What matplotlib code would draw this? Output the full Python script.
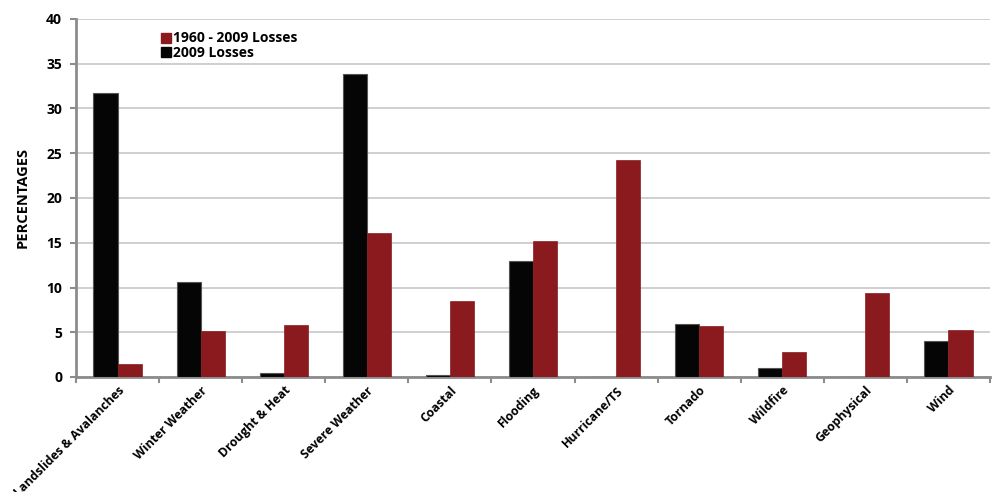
import matplotlib
matplotlib.use("Agg")
import matplotlib.pyplot as plt
import numpy as np
from matplotlib.lines import Line2D

categories = ["Landslides & Avalanches", "Winter Weather", "Drought & Heat", "Severe Weather",
              "Coastal", "Flooding", "Hurricane/TS", "Tornado", "Wildfire", "Geophysical", "Wind"]
losses_2009 = [31.7, 10.6, 0.45, 33.9, 0.2, 13.0, 0.0, 5.9, 1.0, 0.0, 4.0]
losses_1960_2009 = [1.45, 5.1, 5.8, 16.1, 8.5, 15.2, 24.2, 5.7, 2.8, 9.4, 5.25]
yticks = [0, 5, 10, 15, 20, 25, 30, 35, 40]

RED = "#8b1a1e"
BLACK = "#050505"
plt.rcParams['font.family'] = ['Open Sans', 'DejaVu Sans']

fig = plt.figure(figsize=(9.92, 4.92), dpi=100)
ax = fig.add_axes([76/992, 1-377/492, (990-76)/992, (377-19)/492])

x = np.arange(len(categories))
w = 0.29
ax.bar(x - w/2, losses_2009, w, color=BLACK, edgecolor="#555555", linewidth=0.8, zorder=3)
ax.bar(x + w/2, losses_1960_2009, w, color=RED, edgecolor=RED, linewidth=0.5, zorder=3)

ax.set_xlim(-0.5, len(categories) - 0.5)
ax.set_ylim(0, 40)
ax.set_yticks(yticks)
ax.set_yticklabels([str(t) for t in yticks], fontsize=10, fontweight='bold')
ax.yaxis.grid(True, color="#cccccc", linewidth=1.3, zorder=0)
ax.set_axisbelow(True)

ax.set_xticks(x)
ax.set_xticklabels(categories, rotation=45, ha='right', rotation_mode='anchor', fontsize=8.8, fontweight='bold')
ax.tick_params(axis='x', length=0, pad=5)
ax.set_xticks(np.arange(-0.5, len(categories) + 0.5, 1), minor=True)
ax.tick_params(axis='x', which='minor', length=4, width=1.5, color="#8c8c8c")
ax.tick_params(axis='y', length=4, width=1.5, color="#8c8c8c", pad=6)

for s in ['top', 'right']:
    ax.spines[s].set_visible(False)
for s in ['left', 'bottom']:
    ax.spines[s].set_color("#8c8c8c")
    ax.spines[s].set_linewidth(2)

ax.set_ylabel("PERCENTAGES", fontsize=10.5, fontweight='bold', labelpad=12)

handles = [Line2D([], [], marker='s', linestyle='none', color=RED, markersize=7.5),
           Line2D([], [], marker='s', linestyle='none', color=BLACK, markersize=7.5)]
ax.legend(handles, ["1960 - 2009 Losses", "2009 Losses"], loc='upper left',
          bbox_to_anchor=(0.077, 1.0), frameon=False, handletextpad=0.0, labelspacing=0.05,
          prop={'weight': 'bold', 'size': 10}, handlelength=1.0)

fig.savefig("out.png", dpi=100)
